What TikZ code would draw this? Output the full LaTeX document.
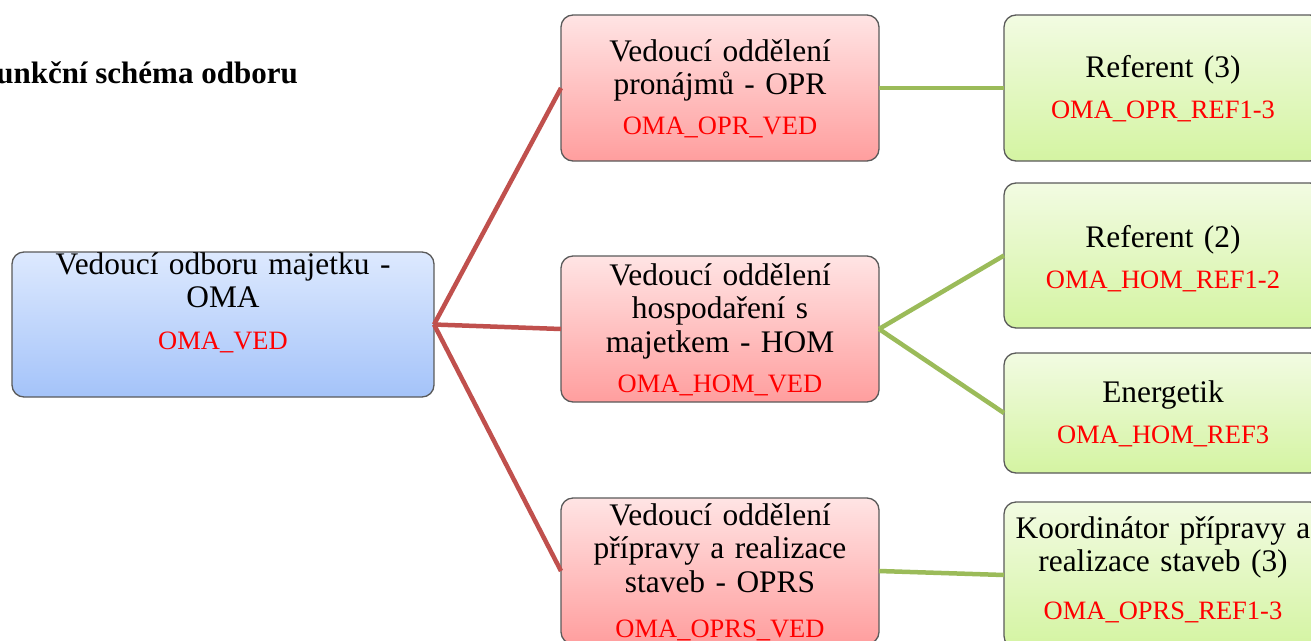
\documentclass[tikz,border=0pt]{standalone}
\usepackage{fontspec}
\setmainfont{Liberation Serif}
\definecolor{bluetop}{HTML}{DDE9FE}
\definecolor{bluebot}{HTML}{A4C3F9}
\definecolor{redtop}{HTML}{FFE4E4}
\definecolor{redbot}{HTML}{FF9E9E}
\definecolor{greentop}{HTML}{F2FBE2}
\definecolor{greenbot}{HTML}{D4F4A2}
\definecolor{boxedge}{HTML}{5A5A5A}
\definecolor{linkred}{HTML}{C0504D}
\definecolor{linkgreen}{HTML}{9BBB59}
\definecolor{codered}{HTML}{FF0000}
\newcommand\codeline[2][41]{\par{\fontsize{26.5}{#1}\selectfont\color{codered}#2\par}}
\tikzset{
  box/.style={rectangle, rounded corners=12pt, draw=boxedge, line width=1.3pt,
    minimum width=318pt, minimum height=146pt, inner sep=0pt, outer sep=0pt},
  bluebox/.style={box, top color=bluetop, bottom color=bluebot},
  redbox/.style={box, top color=redtop, bottom color=redbot},
  greenbox/.style={box, top color=greentop, bottom color=greenbot},
  lbl/.style={text width=420pt, inner sep=0pt, anchor=base,
    font=\fontsize{31.4}{33.5}\selectfont, execute at begin node=\centering},
  titletext/.style={inner sep=0pt, anchor=base east, font=\fontsize{31}{36}\selectfont\bfseries},
  redlink/.style={draw=linkred, line width=4.5pt},
  greenlink/.style={draw=linkgreen, line width=4.5pt},
}
\begin{document}
\begin{tikzpicture}[x=1pt,y=-1pt]
\useasboundingbox (0,0) rectangle (1311,640);
\fill[white] (0,0) rectangle (1311,640);
\clip (0,0) rectangle (1311,640);

\node[titletext] (title) at (298,83) {Funkční schéma odboru};

% boxes
\node[bluebox, minimum width=422pt, minimum height=145pt] (oma) at (223,324.5) {};
\node[redbox] (opr) at (720,88) {};
\node[redbox] (hom) at (720,329) {};
\node[redbox] (oprs) at (720,571) {};
\node[greenbox] (r3) at (1163,88) {};
\node[greenbox, minimum height=145pt] (r2) at (1163,255.5) {};
\node[greenbox, minimum height=120pt] (en) at (1163,413) {};
\node[greenbox] (ko) at (1163,575) {};

% connectors
\draw[redlink] (oma.east) -- (opr.west);
\draw[redlink] (oma.east) -- (hom.west);
\draw[redlink] (oma.east) -- (oprs.west);
\draw[greenlink] (opr.east) -- (r3.west);
\draw[greenlink] (hom.east) -- (r2.west);
\draw[greenlink] (hom.east) -- (en.west);
\draw[greenlink] (oprs.east) -- (ko.west);

% labels
\node[lbl] (toma) at (223,274) {Vedoucí odboru majetku -\\OMA\codeline[42]{OMA\_VED}};
\node[lbl] (topr) at (720,61) {Vedoucí oddělení\\pronájmů - OPR\codeline[40]{OMA\_OPR\_VED}};
\node[lbl] (thom) at (720,285) {Vedoucí oddělení\\hospodaření s\\majetkem - HOM\codeline[40]{OMA\_HOM\_VED}};
\node[lbl] (toprs) at (720,525) {Vedoucí oddělení\\přípravy a realizace\\staveb - OPRS\codeline[45]{OMA\_OPRS\_VED}};
\node[lbl] (tr3) at (1163,77) {Referent (3)\codeline[41]{OMA\_OPR\_REF1-3}};
\node[lbl] (tr2) at (1163,247) {Referent (2)\codeline[41]{OMA\_HOM\_REF1-2}};
\node[lbl] (ten) at (1163,402) {Energetik\codeline[41]{OMA\_HOM\_REF3}};
\node[lbl] (tko) at (1163,538) {Koordinátor přípravy a\\realizace staveb (3)\codeline[48]{OMA\_OPRS\_REF1-3}};
\end{tikzpicture}
\end{document}
